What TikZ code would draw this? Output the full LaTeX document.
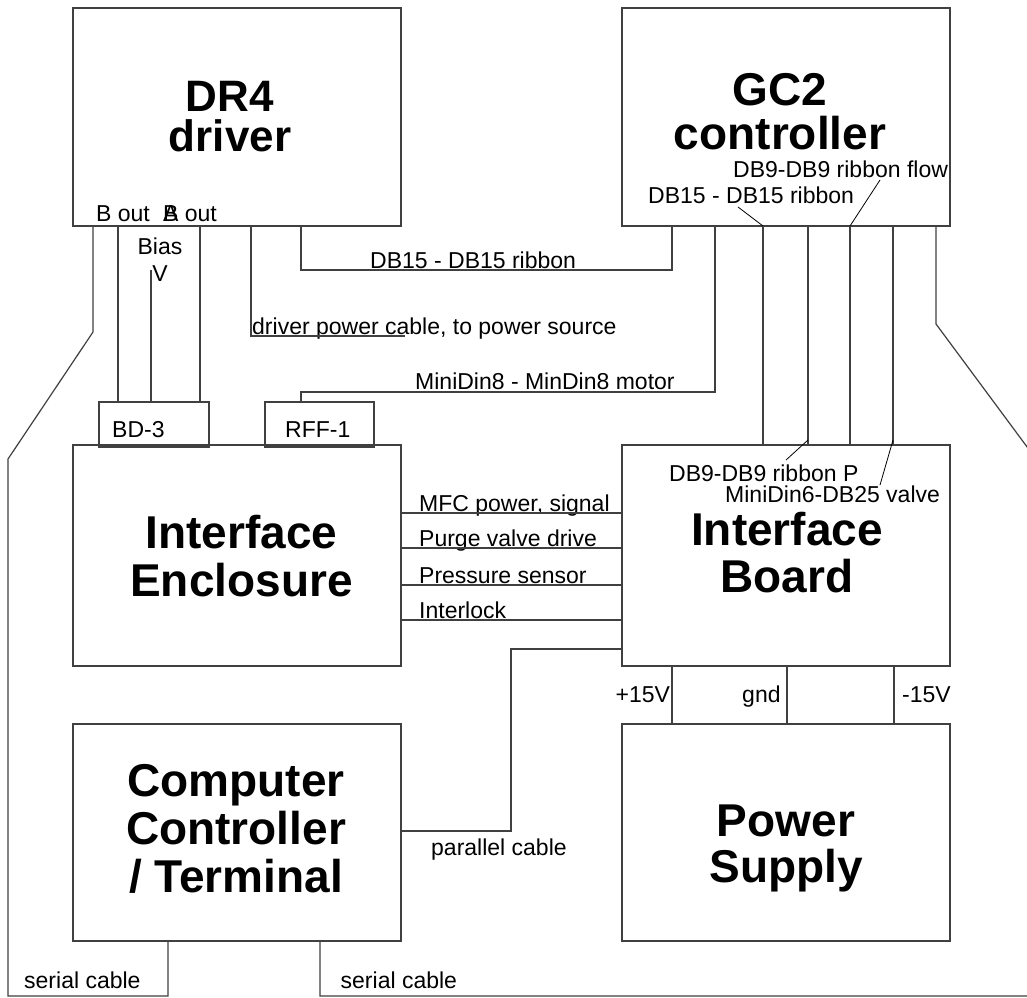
\documentclass[tikz,border=0pt]{standalone}
\usepackage{fontspec}
\setmainfont{Liberation Sans}
\begin{document}
\begin{tikzpicture}[x=1pt,y=-1pt,
  box/.style={draw=black!75, line width=1.2pt, rectangle, inner sep=0pt, outer sep=0pt},
  wire/.style={draw=black!75, line width=1.2pt},
  lead/.style={draw=black, line width=0.8pt},
  lbl/.style={anchor=base west, inner sep=0pt, font=\fontsize{23}{27}\selectfont},
  title/.style={anchor=north, inner sep=0pt, align=center, font=\bfseries\fontsize{46}{47}\selectfont}]
\clip (0,0) rectangle (1027,997);
\fill[white] (0,0) rectangle (1027,997);
% boxes
\node[box, minimum width=328pt, minimum height=218pt] (dr4) at (237,117) {};
\node[box, minimum width=328pt, minimum height=218pt] (gc2) at (786,117) {};
\node[box, minimum width=110pt, minimum height=45pt] (bd3) at (154,424.5) {};
\node[box, minimum width=109pt, minimum height=45pt] (rff1) at (319.5,424.5) {};
\node[box, minimum width=328pt, minimum height=221pt] (enc) at (237,555.5) {};
\node[box, minimum width=328pt, minimum height=221pt] (ib) at (786,555.5) {};
\node[box, minimum width=328pt, minimum height=217pt] (comp) at (237,832.5) {};
\node[box, minimum width=328pt, minimum height=217pt] (ps) at (786,832.5) {};
% titles
\node[title, font=\bfseries\fontsize{44}{40}\selectfont] (dr4t) at (230,81) {DR4\\driver};
\node[title, font=\bfseries\fontsize{46}{44}\selectfont] (gc2t) at (780,73) {GC2\\controller};
\node[title, font=\bfseries\fontsize{46}{48}\selectfont] (enct) at (241.5,515) {Interface\\Enclosure};
\node[title] (ibt) at (787,512) {Interface\\Board};
\node[title, font=\bfseries\fontsize{46}{48}\selectfont] (compt) at (236,764) {Computer\\Controller\\/ Terminal};
\node[title, font=\bfseries\fontsize{46}{46}\selectfont] (pst) at (786,805) {Power\\Supply};
\node[lbl] (bd3t) at (112,437) {BD-3};
\node[lbl] (rff1t) at (285,437) {RFF-1};
% small labels
\node[lbl] (bout) at (96,221) {B out};
\node[lbl] (aout) at (163,221) {\rlap{B}A out};
\node[anchor=north, inner sep=0pt, align=center, font=\fontsize{23}{27}\selectfont] (bias) at (160,238) {Bias\\V};
\node[lbl] (db15a) at (370,268) {DB15 - DB15 ribbon};
\node[lbl] (pwr) at (252,334) {driver power cable, to power source};
\node[lbl] (mdin) at (415,389) {MiniDin8 - MinDin8 motor};
\node[lbl] (db15b) at (648,203) {DB15 - DB15 ribbon};
\node[lbl] (db9f) at (733,177) {DB9-DB9 ribbon flow};
\node[lbl] (db9p) at (669,481) {DB9-DB9 ribbon P};
\node[lbl] (md6) at (725,502) {MiniDin6-DB25 valve};
\node[lbl] (mfc) at (419,511) {MFC power, signal};
\node[lbl] (purge) at (419,546) {Purge valve drive};
\node[lbl] (press) at (419,583) {Pressure sensor};
\node[lbl] (intl) at (419,618) {Interlock};
\node[lbl] (p15) at (615.5,702) {+15V};
\node[lbl] (gnd) at (742,702) {gnd};
\node[lbl] (m15) at (902,702) {-15V};
\node[lbl] (par) at (431,855) {parallel cable};
\node[lbl] (ser1) at (24,988) {serial cable};
\node[lbl] (ser2) at (340.5,988) {serial cable};
% free ends
\coordinate (biasend) at (151,270);
\coordinate (pwrend) at (405,336);
% DR4 connections
\draw[wire] (dr4.south -| 93,0) -- (93,332) -- (8,459) -- (8,996) -- (168,996) -- (comp.south -| 168,0);
\draw[wire] (dr4.south -| 118,0) -- (bd3.north -| 118,0);
\draw[wire] (biasend) -- (bd3.north -| 151,0);
\draw[wire] (dr4.south -| 200,0) -- (bd3.north -| 200,0);
\draw[wire] (dr4.south -| 251,0) -- (251,336) -- (pwrend);
\draw[wire] (dr4.south -| 301,0) -- (301,270) -- (672,270) -- (gc2.south -| 672,0);
% GC2 connections
\draw[wire] (gc2.south -| 715,0) -- (715,392) -- (301,392) -- (rff1.north -| 301,0);
\draw[wire] (gc2.south -| 763,0) -- (ib.north -| 763,0);
\draw[wire] (gc2.south -| 808,0) -- (ib.north -| 808,0);
\draw[wire] (gc2.south -| 850,0) -- (ib.north -| 850,0);
\draw[wire] (gc2.south -| 893,0) -- (ib.north -| 893,0);
\draw[wire] (gc2.south -| 936,0) -- (936,324) -- (1036,459) -- (1036,996) -- (320,996) -- (comp.south -| 320,0);
% leaders
\draw[lead] (738,207) -- (763,226);
\draw[lead] (880,180) -- (850,226);
\draw[lead] (808,440) -- (786,460);
\draw[lead] (893,440) -- (880,485);
% enclosure to board
\draw[wire] (enc.east |- 0,513) -- (ib.west |- 0,513);
\draw[wire] (enc.east |- 0,548) -- (ib.west |- 0,548);
\draw[wire] (enc.east |- 0,585) -- (ib.west |- 0,585);
\draw[wire] (enc.east |- 0,620) -- (ib.west |- 0,620);
% parallel
\draw[wire] (ib.west |- 0,649) -- (511,649) -- (511,831) -- (comp.east |- 0,831);
% power
\draw[wire] (ib.south -| 672,0) -- (ps.north -| 672,0);
\draw[wire] (ib.south -| 787,0) -- (ps.north -| 787,0);
\draw[wire] (ib.south -| 894,0) -- (ps.north -| 894,0);
\end{tikzpicture}
\end{document}
